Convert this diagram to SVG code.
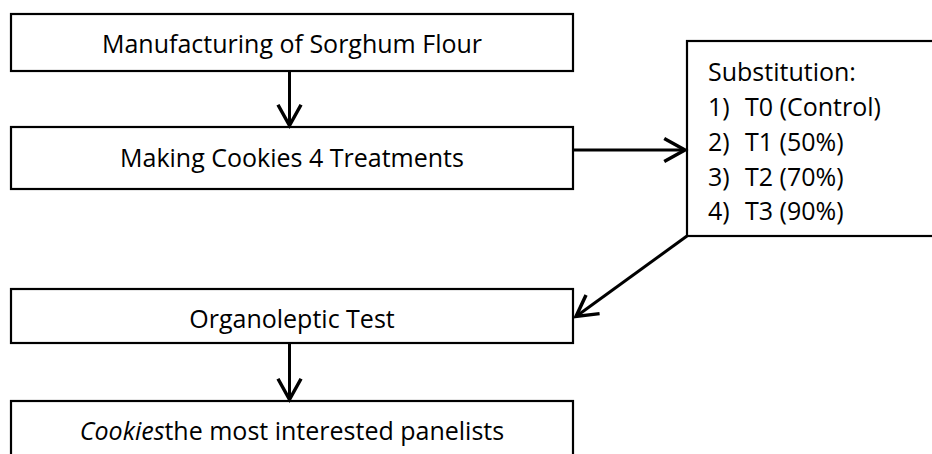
<svg xmlns="http://www.w3.org/2000/svg" width="932" height="454" viewBox="0 0 932 454">
<defs>
<style>
.box{fill:#fff;stroke:#000;stroke-width:2.2}
.t{font-family:"Open Sans","Liberation Sans",sans-serif;font-size:25px;fill:#000}
.c{text-anchor:middle}
.conn{stroke:#000;stroke-width:3;fill:none}
</style>
<marker id="ah" markerUnits="userSpaceOnUse" markerWidth="30" markerHeight="30" viewBox="-22 -13 26 26" refX="0" refY="0" orient="auto" overflow="visible">
<path d="M-18,-10 L0,0 L-18,10" fill="none" stroke="#000" stroke-width="3" stroke-linejoin="miter"/>
</marker>
</defs>
<rect width="932" height="454" fill="#fff"/>
<g id="n1">
<rect class="box" x="11" y="14" width="562" height="57"/>
<text class="t c" x="292" y="53">Manufacturing of Sorghum Flour</text>
</g>
<g id="n2">
<rect class="box" x="11" y="127" width="562" height="62"/>
<text class="t c" x="292" y="166.5">Making Cookies 4 Treatments</text>
</g>
<g id="n3">
<rect class="box" x="687" y="41" width="250" height="195"/>
<text class="t" x="708" y="80.5">Substitution:</text>
<text class="t" x="708" y="115.5">1)<tspan x="745">T0 (Control)</tspan></text>
<text class="t" x="708" y="150.5">2)<tspan x="745">T1 (50%)</tspan></text>
<text class="t" x="708" y="185.5">3)<tspan x="745">T2 (70%)</tspan></text>
<text class="t" x="708" y="220">4)<tspan x="745">T3 (90%)</tspan></text>
</g>
<g id="n4">
<rect class="box" x="11" y="289" width="562" height="54"/>
<text class="t c" x="292" y="328">Organoleptic Test</text>
</g>
<g id="n5">
<rect class="box" x="11" y="401" width="562" height="60"/>
<text class="t c" x="292" y="440"><tspan font-style="italic">Cookies</tspan>the most interested panelists</text>
</g>
<g id="connectors">
<line class="conn" x1="289.5" y1="71" x2="289.5" y2="125.5" marker-end="url(#ah)"/>
<line class="conn" x1="573" y1="150" x2="685" y2="150" marker-end="url(#ah)"/>
<line class="conn" x1="687" y1="236" x2="576" y2="316.5" marker-end="url(#ah)"/>
<line class="conn" x1="289.5" y1="343" x2="289.5" y2="399.5" marker-end="url(#ah)"/>
</g>
</svg>
